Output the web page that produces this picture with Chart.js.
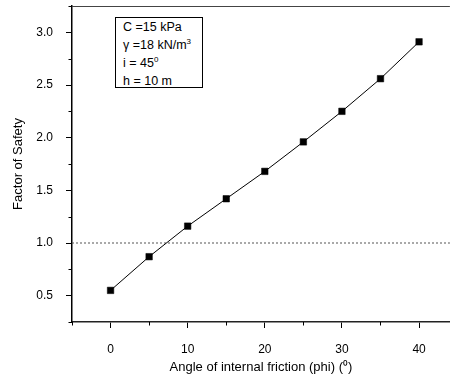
<!DOCTYPE html>
<html>
<head>
<meta charset="utf-8">
<script src="https://cdn.jsdelivr.net/npm/chart.js@4.4.1/dist/chart.umd.min.js"></script>
<style>
    body { margin: 0; background: #fff; }
    #wrap { position: relative; width: 455px; height: 376px; }
    #info {
        position: absolute; left: 115px; top: 17px; width: 88px; height: 71px;
        box-sizing: border-box; border: 1px solid #000; background: #fff;
        font: 12.5px "Liberation Sans", Arial, sans-serif; line-height: 18px;
        padding-left: 7px; color: #000;
    }
    #info sup { font-size: 8px; line-height: 0; vertical-align: 5px; }
</style>
</head>
<body>
<div id="wrap">
    <canvas id="fosChart" width="455" height="376"></canvas>
    <div id="info">
        <div>C =15 kPa</div>
        <div>&gamma; =18 kN/m<sup>3</sup></div>
        <div>i = 45<sup>0</sup></div>
        <div>h = 10 m</div>
    </div>
</div>
<script>
// Sample data
const frictionAngles = [0, 5, 10, 15, 20, 25, 30, 35, 40];
const safetyFactors = [0.55, 0.87, 1.16, 1.42, 1.68, 1.96, 2.25, 2.56, 2.91];
const limitFactor = 1.0;

// Axis ticks
const xRange = [-5, 44];
const yRange = [0.25, 3.25];
const xTickValues = [0, 10, 20, 30, 40];
const xMinorTicks = [-5, 5, 15, 25, 35];
const yTickValues = [0.5, 1.0, 1.5, 2.0, 2.5, 3.0];
const yMinorTicks = [0.25, 0.75, 1.25, 1.75, 2.25, 2.75, 3.25];

const font = { family: '"Liberation Sans", Arial, sans-serif', size: 12 };

// Minor ticks and top frame line
const frameTicks = {
    id: 'frameTicks',
    afterDraw(chart) {
        const { ctx, chartArea: a, scales: { x, y } } = chart;
        ctx.save();
        ctx.strokeStyle = '#000';
        ctx.lineWidth = 1;
        ctx.beginPath();
        xMinorTicks.forEach(v => {
            const px = Math.round(x.getPixelForValue(v)) + 0.5;
            ctx.moveTo(px, a.bottom);
            ctx.lineTo(px, a.bottom + 3.5);
        });
        yMinorTicks.forEach(v => {
            const py = Math.round(y.getPixelForValue(v)) + 0.5;
            ctx.moveTo(a.left, py);
            ctx.lineTo(a.left - 3.5, py);
        });
        ctx.stroke();
        ctx.strokeStyle = '#444';
        ctx.beginPath();
        ctx.moveTo(a.left, a.top + 0.5);
        ctx.lineTo(a.right, a.top + 0.5);
        ctx.stroke();
        ctx.restore();
    }
};

// keep the plot area where the reference has it
function noEdgePadding(s) {
    s.paddingTop = 0;
    s.paddingBottom = 0;
    s.paddingLeft = 0;
    s.paddingRight = 0;
}

const ctx = document.getElementById('fosChart').getContext('2d');
new Chart(ctx, {
    type: 'line',
    data: {
        datasets: [{
            data: frictionAngles.map((a, i) => ({ x: a, y: safetyFactors[i] })),
            borderColor: '#000',
            borderWidth: 1,
            pointStyle: 'rect',
            pointRadius: 4.6,
            pointBackgroundColor: '#000',
            pointBorderColor: '#000',
            pointBorderWidth: 0.5,
            tension: 0
        }, {
            data: xRange.map(a => ({ x: a, y: limitFactor })),
            borderColor: '#555',
            borderWidth: 1,
            borderDash: [2, 2],
            pointRadius: 0
        }]
    },
    options: {
        responsive: false,
        animation: false,
        devicePixelRatio: 1,
        layout: { padding: { top: 6, right: 0, bottom: 0, left: 0 } },
        plugins: { legend: { display: false }, tooltip: { enabled: false } },
        scales: {
            x: {
                type: 'linear',
                min: xRange[0],
                max: xRange[1],
                afterBuildTicks: s => { s.ticks = xTickValues.map(v => ({ value: v })); },
                afterFit: s => { s.height = 54; noEdgePadding(s); },
                grid: { drawOnChartArea: false, tickLength: 6, tickColor: '#000' },
                border: { color: '#222', width: 1.5 },
                ticks: { font, color: '#000', padding: 14, maxRotation: 0 },
                title: {
                    display: true,
                    text: 'Angle of internal friction (phi) (\u2070)',
                    font: { family: font.family, size: 13 },
                    color: '#000',
                    padding: { top: 0, bottom: 1 }
                }
            },
            y: {
                min: yRange[0],
                max: yRange[1],
                afterBuildTicks: s => { s.ticks = yTickValues.map(v => ({ value: v })); },
                afterFit: s => { s.width = 72; noEdgePadding(s); },
                grid: { drawOnChartArea: false, tickLength: 6, tickColor: '#000' },
                border: { color: '#000', width: 1.5 },
                ticks: { font, color: '#000', padding: 13, callback: v => v.toFixed(1) },
                title: {
                    display: true,
                    text: 'Factor of Safety',
                    font: { family: font.family, size: 13 },
                    color: '#000',
                    padding: { top: 11, bottom: 0 }
                }
            }
        }
    },
    plugins: [frameTicks]
});
</script>
</body>
</html>
